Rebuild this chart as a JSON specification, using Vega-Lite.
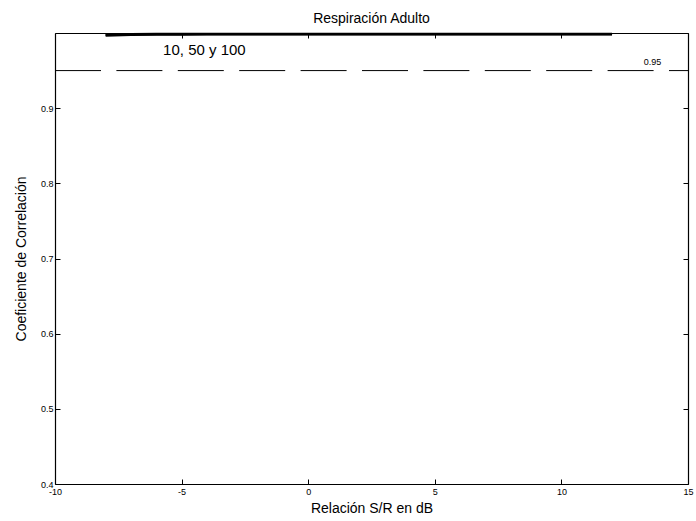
{
  "$schema": "https://vega.github.io/schema/vega-lite/v6.json",
  "width": 633,
  "height": 451,
  "autosize": "none",
  "padding": {"left": 55, "top": 33, "right": 8, "bottom": 37},
  "background": "white",
  "config": {
    "font": "Liberation Sans",
    "view": {"stroke": null},
    "axis": {"grid": false, "domainColor": "black", "tickColor": "black", "labelColor": "black", "titleColor": "black", "labelFont": "Liberation Sans", "titleFont": "Liberation Sans", "labelFontSize": 9, "titleFontSize": 14, "titleFontWeight": "normal", "domainWidth": 1.2, "tickWidth": 1}
  },
  "title": {"text": "Respiración Adulto", "fontSize": 14, "fontWeight": "normal", "font": "Liberation Sans", "color": "black", "offset": 4},
  "datasets": {
    "curves": [
      {"snr": -8, "r": 0.9965, "n": "10"}, {"snr": -7, "r": 0.9972, "n": "10"}, {"snr": -6, "r": 0.9976, "n": "10"}, {"snr": -5, "r": 0.9978, "n": "10"}, {"snr": -4, "r": 0.9979, "n": "10"}, {"snr": -3, "r": 0.998, "n": "10"}, {"snr": -2, "r": 0.998, "n": "10"}, {"snr": -1, "r": 0.998, "n": "10"}, {"snr": 0, "r": 0.998, "n": "10"}, {"snr": 1, "r": 0.998, "n": "10"}, {"snr": 2, "r": 0.998, "n": "10"}, {"snr": 3, "r": 0.998, "n": "10"}, {"snr": 4, "r": 0.998, "n": "10"}, {"snr": 5, "r": 0.998, "n": "10"}, {"snr": 6, "r": 0.998, "n": "10"}, {"snr": 7, "r": 0.998, "n": "10"}, {"snr": 8, "r": 0.998, "n": "10"}, {"snr": 9, "r": 0.998, "n": "10"}, {"snr": 10, "r": 0.998, "n": "10"}, {"snr": 11, "r": 0.998, "n": "10"}, {"snr": 12, "r": 0.998, "n": "10"},
      {"snr": -8, "r": 0.9975, "n": "50"}, {"snr": -7, "r": 0.998, "n": "50"}, {"snr": -6, "r": 0.9982, "n": "50"}, {"snr": -5, "r": 0.9984, "n": "50"}, {"snr": -4, "r": 0.9985, "n": "50"}, {"snr": -3, "r": 0.9985, "n": "50"}, {"snr": -2, "r": 0.9985, "n": "50"}, {"snr": -1, "r": 0.9985, "n": "50"}, {"snr": 0, "r": 0.9985, "n": "50"}, {"snr": 1, "r": 0.9985, "n": "50"}, {"snr": 2, "r": 0.9985, "n": "50"}, {"snr": 3, "r": 0.9985, "n": "50"}, {"snr": 4, "r": 0.9985, "n": "50"}, {"snr": 5, "r": 0.9985, "n": "50"}, {"snr": 6, "r": 0.9985, "n": "50"}, {"snr": 7, "r": 0.9985, "n": "50"}, {"snr": 8, "r": 0.9985, "n": "50"}, {"snr": 9, "r": 0.9985, "n": "50"}, {"snr": 10, "r": 0.9985, "n": "50"}, {"snr": 11, "r": 0.9985, "n": "50"}, {"snr": 12, "r": 0.9985, "n": "50"},
      {"snr": -8, "r": 0.9985, "n": "100"}, {"snr": -7, "r": 0.9988, "n": "100"}, {"snr": -6, "r": 0.9989, "n": "100"}, {"snr": -5, "r": 0.999, "n": "100"}, {"snr": -4, "r": 0.999, "n": "100"}, {"snr": -3, "r": 0.999, "n": "100"}, {"snr": -2, "r": 0.999, "n": "100"}, {"snr": -1, "r": 0.999, "n": "100"}, {"snr": 0, "r": 0.999, "n": "100"}, {"snr": 1, "r": 0.999, "n": "100"}, {"snr": 2, "r": 0.999, "n": "100"}, {"snr": 3, "r": 0.999, "n": "100"}, {"snr": 4, "r": 0.999, "n": "100"}, {"snr": 5, "r": 0.999, "n": "100"}, {"snr": 6, "r": 0.999, "n": "100"}, {"snr": 7, "r": 0.999, "n": "100"}, {"snr": 8, "r": 0.999, "n": "100"}, {"snr": 9, "r": 0.999, "n": "100"}, {"snr": 10, "r": 0.999, "n": "100"}, {"snr": 11, "r": 0.999, "n": "100"}, {"snr": 12, "r": 0.999, "n": "100"}
    ],
    "threshold": [{"snr": -10, "r": 0.95}, {"snr": 15, "r": 0.95}],
    "labels": [
      {"snr": -4.1, "r": 0.977, "t": "10, 50 y 100", "s": "big"},
      {"snr": 13.6, "r": 0.961, "t": "0.95", "s": "small"}
    ]
  },
  "layer": [
    {
      "data": {"name": "threshold"},
      "mark": {"type": "line", "color": "black", "strokeWidth": 1, "strokeDash": [46, 15.4]},
      "encoding": {
        "x": {"field": "snr", "type": "quantitative", "scale": {"domain": [-10, 15], "nice": false, "zero": false},
              "axis": {"orient": "bottom", "title": "Relación S/R en dB", "values": [-10, -5, 0, 5, 10, 15], "labelExpr": "replace(datum.label, '−', '-')", "tickSize": -5, "labelPadding": 8, "titlePadding": 5, "labelFlush": false}},
        "y": {"field": "r", "type": "quantitative", "scale": {"domain": [0.4, 1], "nice": false, "zero": false},
              "axis": {"orient": "left", "title": "Coeficiente de Correlación", "values": [0.4, 0.5, 0.6, 0.7, 0.8, 0.9], "format": ".1f", "tickSize": -5, "labelPadding": 7, "titlePadding": 12, "labelFlush": false}}
      }
    },
    {
      "data": {"name": "curves"},
      "mark": {"type": "line", "color": "black", "strokeWidth": 2},
      "encoding": {
        "x": {"field": "snr", "type": "quantitative",
              "axis": {"orient": "top", "title": null, "labels": false, "values": [-10, -5, 0, 5, 10, 15], "tickSize": -5}},
        "y": {"field": "r", "type": "quantitative",
              "axis": {"orient": "right", "title": null, "labels": false, "values": [0.4, 0.5, 0.6, 0.7, 0.8, 0.9, 1.0], "tickSize": -5}},
        "detail": {"field": "n", "type": "nominal"}
      }
    },
    {
      "data": {"name": "labels"},
      "mark": {"type": "text", "color": "black", "font": "Liberation Sans", "baseline": "middle", "align": "center"},
      "encoding": {
        "x": {"field": "snr", "type": "quantitative", "axis": null},
        "y": {"field": "r", "type": "quantitative", "axis": null},
        "text": {"field": "t"},
        "size": {"field": "s", "type": "nominal", "scale": {"domain": ["big", "small"], "range": [15, 9]}, "legend": null}
      }
    }
  ],
  "resolve": {"axis": {"x": "independent", "y": "independent"}}
}
